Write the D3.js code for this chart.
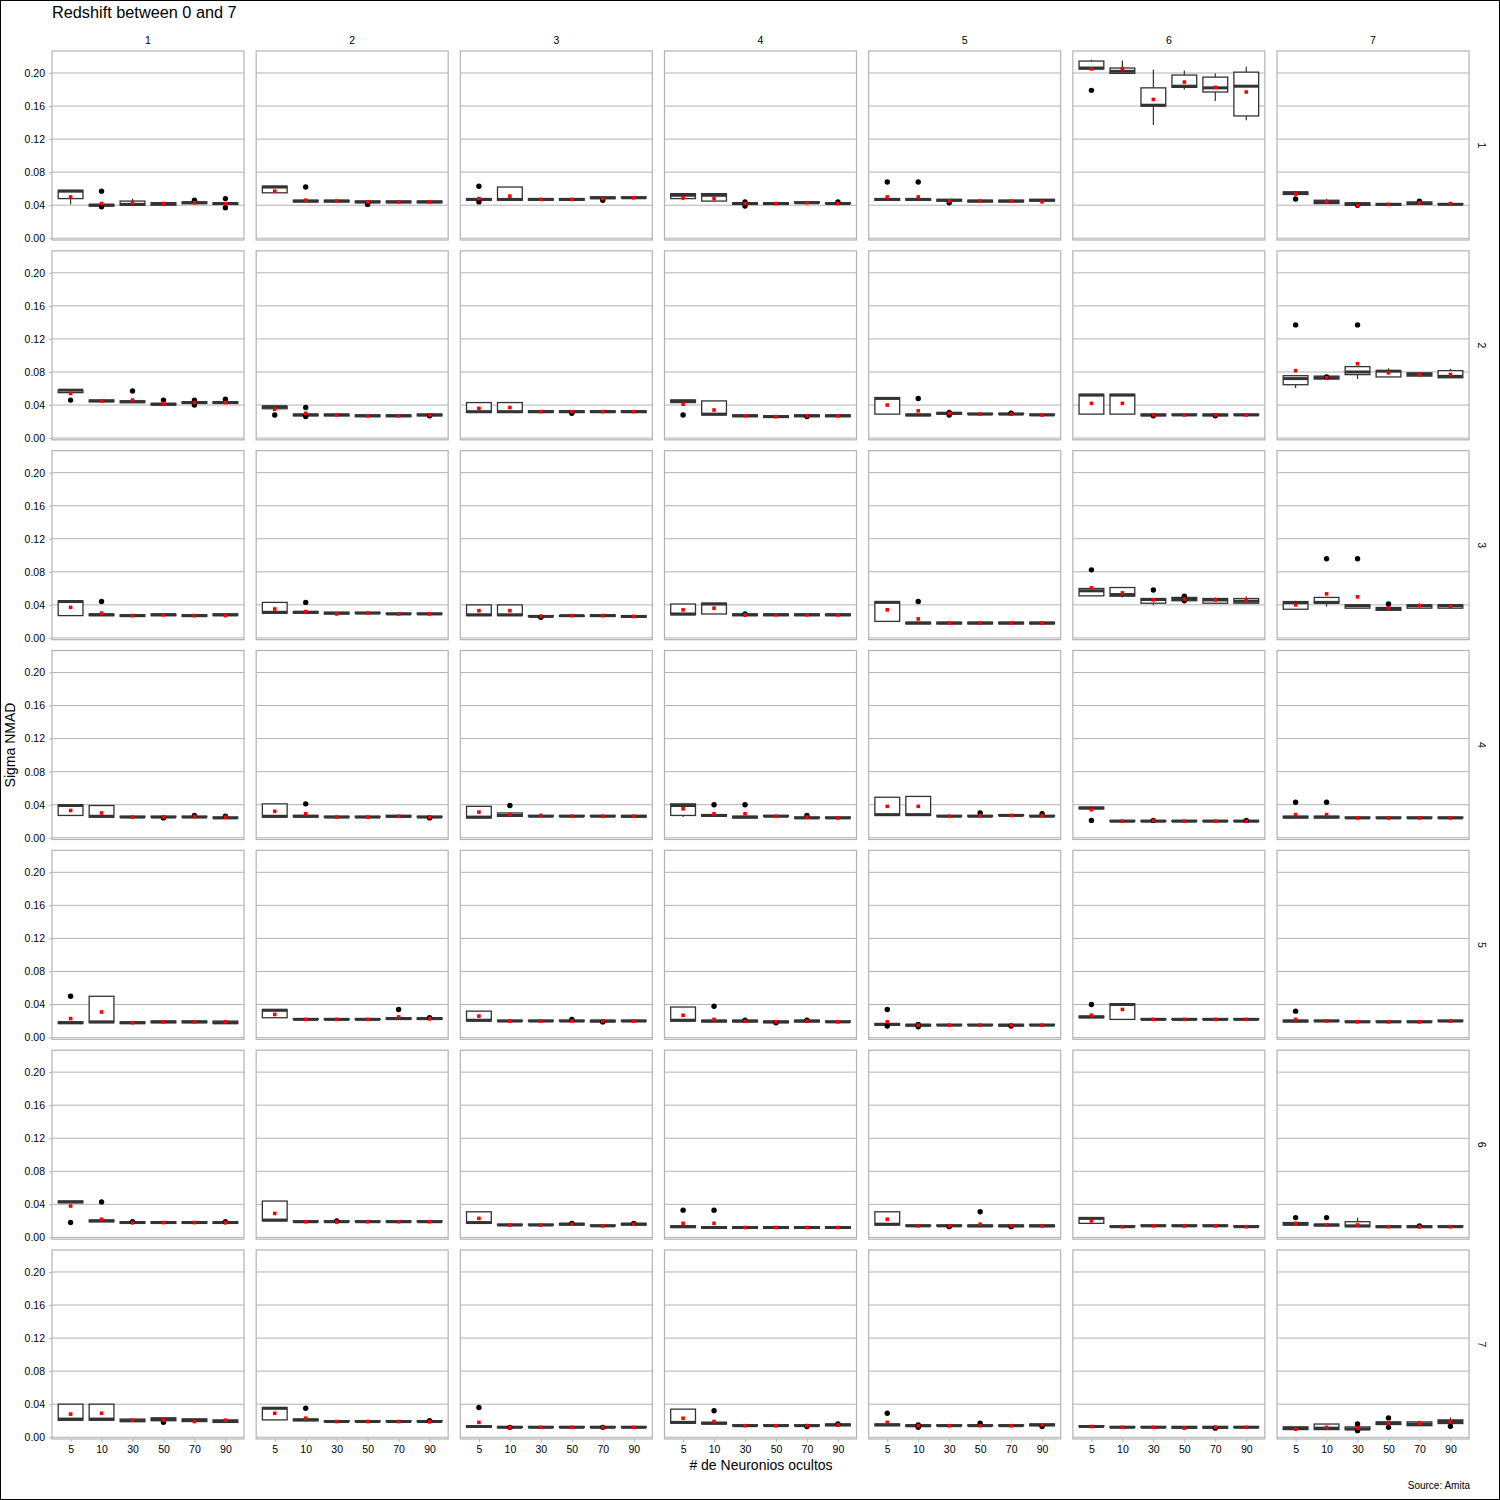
<!DOCTYPE html>
<html><head><meta charset="utf-8">
<script src="https://cdn.jsdelivr.net/npm/d3@7"></script>
<style>body{margin:0;background:#fff}svg{display:block}text{font-family:"Liberation Sans",Arial,sans-serif}</style>
</head><body>
<script>
const neurons = ["5","10","30","50","70","90"];
const colLabels = ["1","2","3","4","5","6","7"];
const rowLabels = ["1","2","3","4","5","6","7"];
const yTicks = [0.00,0.04,0.08,0.12,0.16,0.20];

const whiskerLow = [
 [[.041,.039,.040,.040,.042,.041],[.055,.044,.044,.043,.043,.043],[.046,.046,.046,.046,.048,.049],[.046,.045,.041,.041,.043,.042],[.046,.046,.045,.044,.044,.045],[.2048,.1995,.137,.180,.166,.1427],[.053,.042,.040,.040,.041,.041]],
 [[.055,.044,.043,.040,.042,.042],[.0355,.027,.027,.026,.026,.027],[.031,.031,.031,.031,.031,.031],[.043,.028,.026,.025,.026,.026],[.029,.027,.029,.029,.029,.028],[.029,.029,.027,.028,.027,.028],[.0606,.071,.0715,.074,.074,.073]],
 [[.027,.027,.026,.027,.026,.027],[.030,.030,.029,.030,.029,.029],[.027,.027,.026,.026,.026,.025],[.028,.029,.027,.027,.027,.027],[.020,.017,.017,.017,.017,.017],[.0509,.049,.0396,.045,.042,.042],[.0347,.038,.036,.0335,.036,.036]],
 [[.027,.025,.025,.025,.025,.024],[.025,.025,.025,.025,.025,.025],[.024,.026,.026,.026,.026,.025],[.025,.026,.024,.026,.024,.024],[.027,.027,.026,.026,.027,.026],[.035,.020,.020,.020,.020,.020],[.024,.024,.024,.024,.024,.024]],
 [[.017,.018,.017,.018,.018,.017],[.024,.022,.022,.022,.022,.022],[.020,.020,.020,.020,.019,.020],[.020,.019,.019,.018,.019,.019],[.015,.014,.015,.015,.014,.015],[.024,.022,.022,.022,.022,.022],[.019,.020,.019,.019,.019,.020]],
 [[.042,.019,.017,.017,.017,.017],[.020,.019,.019,.019,.019,.019],[.017,.015,.015,.015,.014,.015],[.012,.011,.011,.011,.011,.011],[.015,.014,.014,.013,.013,.013],[.017,.013,.014,.014,.014,.013],[.015,.014,.013,.012,.012,.013]],
 [[.0206,.0206,.019,.020,.019,.018],[.021,.020,.019,.019,.019,.019],[.012,.012,.012,.012,.012,.012],[.017,.016,.014,.014,.014,.014],[.014,.013,.014,.014,.014,.014],[.013,.012,.012,.011,.011,.012],[.0093,.0093,.0093,.0154,.014,.0166]]
];
const q1 = [
 [[.048,.039,.040,.040,.042,.041],[.055,.044,.044,.043,.043,.043],[.046,.046,.046,.046,.048,.049],[.048,.045,.041,.041,.043,.042],[.046,.046,.045,.044,.044,.045],[.2048,.1995,.160,.1826,.177,.148],[.053,.042,.040,.040,.041,.041]],
 [[.055,.044,.043,.040,.042,.042],[.0355,.027,.027,.026,.026,.027],[.031,.031,.031,.031,.031,.031],[.043,.028,.026,.025,.026,.026],[.029,.027,.029,.029,.029,.028],[.029,.029,.027,.028,.027,.028],[.0646,.0715,.0768,.074,.075,.073]],
 [[.027,.027,.026,.027,.026,.027],[.030,.030,.029,.030,.029,.029],[.027,.027,.026,.026,.026,.025],[.028,.029,.027,.027,.027,.027],[.020,.017,.017,.017,.017,.017],[.0509,.0505,.042,.045,.042,.042],[.0347,.042,.036,.0335,.036,.036]],
 [[.027,.025,.025,.025,.025,.024],[.025,.025,.025,.025,.025,.025],[.024,.026,.026,.026,.026,.025],[.027,.026,.024,.026,.024,.024],[.027,.027,.026,.026,.027,.026],[.035,.020,.020,.020,.020,.020],[.024,.024,.024,.024,.024,.024]],
 [[.017,.018,.017,.018,.018,.017],[.024,.022,.022,.022,.022,.022],[.020,.020,.020,.020,.019,.020],[.020,.019,.019,.018,.019,.019],[.015,.014,.015,.015,.014,.015],[.024,.022,.022,.022,.022,.022],[.019,.020,.019,.019,.019,.020]],
 [[.042,.019,.017,.017,.017,.017],[.020,.019,.019,.019,.019,.019],[.017,.015,.015,.015,.014,.015],[.012,.011,.011,.011,.011,.011],[.015,.014,.014,.013,.013,.013],[.017,.013,.014,.014,.014,.013],[.015,.014,.013,.012,.012,.013]],
 [[.0206,.0206,.019,.020,.019,.018],[.021,.020,.019,.019,.019,.019],[.012,.012,.012,.012,.012,.012],[.017,.016,.014,.014,.014,.014],[.014,.013,.014,.014,.014,.014],[.013,.012,.012,.011,.011,.012],[.0093,.0093,.0093,.0154,.014,.0166]]
];
const median = [
 [[.057,.040,.041,.042,.043,.042],[.062,.045,.045,.044,.044,.044],[.047,.047,.047,.047,.049,.049],[.052,.052,.042,.042,.043,.042],[.047,.047,.046,.045,.045,.046],[.206,.202,.161,.184,.182,.184],[.055,.044,.041,.041,.042,.041]],
 [[.058,.045,.044,.041,.043,.043],[.038,.028,.028,.027,.027,.028],[.032,.032,.032,.032,.032,.032],[.045,.029,.027,.026,.027,.027],[.048,.028,.030,.029,.029,.028],[.052,.052,.028,.028,.028,.028],[.072,.073,.080,.081,.077,.0747]],
 [[.044,.028,.027,.028,.027,.028],[.031,.031,.030,.030,.029,.029],[.028,.028,.026,.027,.027,.026],[.029,.041,.028,.028,.028,.028],[.043,.018,.018,.018,.018,.018],[.057,.0525,.0465,.047,.046,.0444],[.0424,.043,.039,.035,.039,.039]],
 [[.039,.026,.025,.025,.025,.024],[.026,.026,.025,.025,.026,.025],[.025,.027,.026,.026,.026,.026],[.039,.027,.025,.026,.024,.024],[.028,.028,.026,.026,.027,.026],[.036,.020,.020,.020,.020,.020],[.025,.025,.024,.024,.024,.024]],
 [[.018,.019,.018,.019,.019,.018],[.033,.022,.022,.022,.023,.023],[.021,.020,.020,.020,.020,.020],[.021,.020,.020,.019,.020,.019],[.016,.015,.015,.015,.015,.015],[.025,.040,.022,.022,.022,.022],[.020,.020,.019,.019,.019,.020]],
 [[.043,.020,.018,.018,.018,.018],[.021,.019,.019,.019,.019,.019],[.018,.015,.015,.016,.014,.016],[.013,.012,.012,.012,.012,.012],[.016,.014,.014,.014,.014,.014],[.023,.013,.014,.014,.014,.013],[.016,.015,.014,.013,.013,.013]],
 [[.022,.022,.020,.022,.021,.019],[.035,.021,.019,.019,.019,.019],[.013,.012,.012,.012,.012,.012],[.018,.017,.014,.014,.014,.015],[.015,.014,.014,.014,.014,.015],[.013,.012,.012,.012,.012,.012],[.011,.011,.010,.017,.016,.019]]
];
const q3 = [
 [[.058,.041,.045,.043,.044,.043],[.063,.046,.046,.045,.045,.045],[.048,.062,.048,.048,.050,.050],[.054,.054,.043,.043,.044,.043],[.048,.048,.047,.046,.046,.047],[.2144,.206,.182,.1975,.195,.201],[.056,.046,.043,.042,.044,.042]],
 [[.058,.046,.045,.042,.044,.044],[.0385,.029,.029,.028,.028,.029],[.043,.043,.033,.033,.033,.033],[.046,.045,.028,.027,.028,.028],[.049,.029,.031,.030,.030,.029],[.053,.053,.029,.029,.029,.029],[.0755,.075,.0865,.0816,.079,.0816]],
 [[.045,.029,.028,.029,.028,.029],[.043,.032,.031,.031,.030,.030],[.040,.040,.027,.027,.028,.027],[.041,.042,.029,.029,.029,.029],[.044,.019,.019,.019,.019,.019],[.0598,.061,.0477,.049,.0477,.0477],[.044,.049,.040,.0368,.040,.040]],
 [[.040,.039,.026,.026,.026,.025],[.041,.027,.026,.026,.027,.026],[.038,.030,.027,.027,.027,.027],[.041,.028,.026,.027,.025,.025],[.049,.050,.027,.027,.028,.027],[.037,.021,.021,.021,.021,.021],[.026,.026,.025,.025,.025,.025]],
 [[.019,.050,.019,.020,.020,.020],[.034,.023,.023,.023,.024,.024],[.032,.021,.021,.021,.021,.021],[.037,.021,.021,.020,.021,.020],[.017,.016,.016,.016,.016,.016],[.026,.041,.023,.023,.023,.023],[.021,.021,.020,.020,.020,.021]],
 [[.044,.021,.019,.019,.019,.019],[.044,.020,.020,.020,.020,.020],[.031,.016,.016,.017,.015,.017],[.014,.013,.013,.013,.013,.013],[.031,.015,.015,.015,.015,.015],[.024,.014,.015,.015,.015,.014],[.018,.016,.019,.014,.014,.014]],
 [[.040,.040,.022,.0234,.022,.021],[.036,.022,.020,.020,.020,.020],[.014,.013,.013,.013,.013,.013],[.034,.018,.015,.015,.015,.016],[.016,.015,.015,.015,.015,.016],[.014,.013,.013,.013,.013,.013],[.0125,.016,.0125,.0186,.0186,.021]]
];
const whiskerHigh = [
 [[.058,.041,.048,.044,.044,.044],[.063,.046,.046,.045,.045,.045],[.048,.062,.048,.048,.050,.050],[.054,.054,.043,.043,.044,.043],[.048,.048,.047,.046,.046,.047],[.216,.215,.204,.203,.1995,.2076],[.057,.0476,.043,.042,.044,.042]],
 [[.058,.046,.045,.042,.044,.044],[.0385,.029,.029,.028,.028,.029],[.043,.043,.033,.033,.033,.033],[.046,.045,.028,.027,.028,.028],[.049,.029,.031,.030,.030,.029],[.053,.053,.029,.029,.029,.029],[.0755,.076,.0865,.0845,.080,.0836]],
 [[.045,.029,.028,.029,.028,.029],[.043,.032,.031,.031,.030,.030],[.040,.040,.027,.027,.028,.027],[.041,.042,.029,.029,.029,.029],[.044,.019,.019,.019,.019,.019],[.0598,.061,.0477,.049,.049,.0505],[.045,.049,.040,.0368,.042,.041]],
 [[.040,.039,.026,.026,.026,.025],[.041,.027,.026,.026,.027,.026],[.038,.030,.027,.027,.027,.027],[.041,.028,.026,.027,.025,.025],[.049,.050,.027,.027,.028,.027],[.038,.021,.021,.021,.021,.021],[.026,.026,.025,.025,.025,.025]],
 [[.019,.050,.019,.020,.020,.020],[.034,.023,.023,.023,.024,.024],[.032,.021,.021,.021,.021,.021],[.037,.021,.021,.020,.021,.020],[.017,.016,.016,.016,.016,.016],[.026,.041,.023,.023,.023,.023],[.021,.021,.020,.020,.020,.021]],
 [[.044,.021,.019,.019,.019,.019],[.044,.020,.020,.020,.020,.020],[.031,.016,.016,.017,.015,.017],[.014,.013,.013,.013,.013,.013],[.031,.015,.015,.015,.015,.015],[.024,.014,.015,.015,.015,.014],[.018,.016,.024,.014,.014,.014]],
 [[.040,.040,.022,.0234,.022,.021],[.036,.022,.020,.020,.020,.020],[.014,.013,.013,.013,.013,.013],[.034,.018,.015,.015,.015,.016],[.016,.015,.015,.015,.015,.016],[.014,.013,.013,.013,.013,.013],[.0125,.016,.0125,.0186,.020,.024]]
];
const means = [
 [[.050,.042,.043,.042,.043,.042],[.057,.046,.045,.044,.044,.044],[.048,.051,.047,.047,.048,.049],[.049,.048,.042,.042,.043,.042],[.050,.050,.045,.045,.045,.044],[.205,.205,.168,.189,.1826,.177],[.0536,.044,.040,.041,.043,.042]],
 [[.054,.045,.046,.042,.043,.043],[.035,.030,.028,.027,.027,.028],[.036,.037,.032,.032,.032,.032],[.041,.034,.027,.026,.027,.027],[.040,.033,.030,.029,.029,.028],[.042,.042,.028,.028,.028,.028],[.0816,.073,.090,.079,.077,.077]],
 [[.037,.030,.027,.028,.027,.027],[.035,.032,.029,.030,.029,.029],[.033,.033,.026,.027,.027,.026],[.034,.036,.028,.028,.028,.028],[.034,.023,.018,.018,.018,.018],[.0606,.0545,.046,.047,.046,.046],[.040,.0533,.0497,.0364,.039,.038]],
 [[.033,.030,.025,.025,.026,.025],[.032,.029,.025,.025,.026,.025],[.031,.028,.027,.026,.026,.026],[.035,.029,.029,.026,.025,.024],[.038,.038,.026,.027,.027,.027],[.034,.020,.021,.020,.020,.020],[.028,.028,.024,.024,.024,.024]],
 [[.023,.031,.018,.019,.019,.019],[.028,.022,.022,.022,.025,.023],[.026,.020,.020,.020,.020,.020],[.027,.022,.020,.019,.020,.019],[.019,.015,.015,.015,.015,.015],[.027,.034,.022,.022,.022,.022],[.022,.020,.019,.019,.019,.020]],
 [[.038,.022,.018,.018,.018,.018],[.029,.019,.019,.019,.019,.019],[.023,.015,.015,.016,.014,.016],[.017,.017,.012,.012,.012,.012],[.022,.014,.014,.016,.014,.014],[.020,.013,.014,.014,.014,.013],[.017,.015,.015,.013,.013,.013]],
 [[.028,.029,.0206,.0206,.019,.0206],[.029,.023,.019,.019,.019,.019],[.018,.012,.012,.012,.012,.012],[.023,.019,.014,.014,.014,.015],[.018,.014,.014,.014,.014,.015],[.013,.012,.012,.011,.012,.012],[.0097,.012,.011,.017,.017,.0186]]
];
const outliers = [
 [[[],[.057,.038],[],[],[.046],[.048,.037]],[[],[.062],[],[.041],[],[]],[[.063,.044],[],[],[],[.046],[]],[[],[],[.039,.044],[],[],[.044]],[[.068],[.068],[.043],[],[],[]],[[.179],[],[],[],[],[]],[[.0476],[],[.040],[],[.045],[]]],
 [[[.046],[],[.057],[.046],[.046,.040],[.047]],[[.028],[.037,.026],[],[],[],[.027]],[[],[],[],[.030],[],[]],[[.028],[],[],[],[.026],[]],[[],[.048],[.028,.031],[],[.030],[]],[[],[],[.027],[],[.027],[]],[[.137],[.074],[.137],[],[],[]]],
 [[[],[.044],[],[],[],[]],[[],[.043],[],[],[],[]],[[],[],[.025],[],[],[]],[[],[],[.029],[],[],[]],[[],[.044],[],[],[],[]],[[.0824],[],[.058],[.0505,.045],[],[]],[[],[.0958],[.0958],[.041],[],[]]],
 [[[],[],[],[.024],[.027],[.026]],[[],[.041],[],[],[],[.024]],[[],[.039],[],[],[],[]],[[],[.040],[.040],[],[.027],[]],[[],[],[],[.030],[],[.029]],[[.021],[],[.021],[],[],[.021]],[[.043],[.043],[],[],[],[]]],
 [[[.050],[],[],[],[],[]],[[],[],[],[],[.034],[.024]],[[],[],[],[.022],[.019],[]],[[],[.038],[.021],[.018],[.021],[]],[[.034,.014],[.013,.016],[],[],[.014],[]],[[.040],[],[],[],[],[]],[[.032],[],[],[],[],[]]],
 [[[.018],[.043],[.019],[],[],[.019]],[[],[],[.020],[],[],[]],[[],[],[],[.017],[],[.017]],[[.033],[.033],[],[],[],[]],[[],[],[.013],[.031],[.013],[]],[[],[],[],[],[],[]],[[.024],[.024],[],[],[.014],[]]],
 [[[],[],[],[.018],[],[]],[[],[.035],[],[],[],[.020]],[[.036],[.012],[],[],[.012],[]],[[],[.032],[],[],[.013],[.016]],[[.029],[.012,.015],[],[.017],[],[.013]],[[],[],[],[],[.011],[]],[[],[],[.016,.008],[.0234,.012],[],[.0133]]]
];

const W = 1500, H = 1500;
const panelW = 192, panelH = 189, colStep = 204.17, rowStep = 199.83, left0 = 52, top0 = 51;
const gridCol = "#b3b3b3", boxCol = "#333333";
const svg = d3.select("body").append("svg").attr("width", W).attr("height", H);
svg.append("rect").attr("x",0.5).attr("y",0.5).attr("width",W-1).attr("height",H-1).attr("fill","#fff").attr("stroke","#000");

const x = d3.scalePoint().domain(neurons).range([0, panelW]).padding(0.6);
const bw = x.step() * 0.8;
const y = d3.scaleLinear().domain([-0.0021, 0.2266]).range([panelH, 0]);

svg.append("text").attr("x",52).attr("y",18).attr("font-size",16.3).text("Redshift between 0 and 7");

for (let r = 0; r < 7; r++) {
  for (let c = 0; c < 7; c++) {
    const g = svg.append("g").attr("transform", `translate(${left0 + c*colStep},${top0 + r*rowStep})`);
    g.append("rect").attr("width", panelW).attr("height", panelH).attr("fill","#fff");
    g.selectAll("line.grid").data(yTicks).join("line").attr("class","grid")
      .attr("x1",0).attr("x2",panelW).attr("y1",d=>y(d)).attr("y2",d=>y(d))
      .attr("stroke",gridCol).attr("stroke-width",1);
    g.append("rect").attr("width", panelW).attr("height", panelH).attr("fill","none").attr("stroke",gridCol).attr("stroke-width",1.2);
    if (c === 0) {
      const ax = g.append("g").call(d3.axisLeft(y).tickValues(yTicks).tickFormat(d3.format(".2f")).tickSize(3).tickPadding(4));
      ax.select(".domain").remove();
      ax.selectAll("line").attr("stroke", gridCol);
      ax.selectAll("text").attr("font-size",10.5).attr("fill","#000").attr("font-family","Liberation Sans, Arial, sans-serif");
    }
    if (r === 6) {
      const ax = g.append("g").attr("transform",`translate(0,${panelH})`).call(d3.axisBottom(x).tickSize(3).tickPadding(4));
      ax.select(".domain").remove();
      ax.selectAll("line").attr("stroke", gridCol);
      ax.selectAll("text").attr("font-size",10.5).attr("fill","#000").attr("font-family","Liberation Sans, Arial, sans-serif");
    }
    if (r === 0) {
      svg.append("text").attr("x", left0 + c*colStep + panelW/2).attr("y", 44).attr("text-anchor","middle").attr("font-size",10.5).text(colLabels[c]);
    }
    if (c === 6) {
      const cy = top0 + r*rowStep + panelH/2;
      svg.append("text").attr("transform",`translate(1478,${cy}) rotate(90)`).attr("text-anchor","middle").attr("font-size",10.5).text(rowLabels[r]);
    }
    const boxes = neurons.map((n,k) => ({
      n, lo: whiskerLow[r][c][k], q1: q1[r][c][k], med: median[r][c][k], q3: q3[r][c][k],
      hi: whiskerHigh[r][c][k], mean: means[r][c][k], out: outliers[r][c][k]
    }));
    const b = g.selectAll("g.box").data(boxes).join("g").attr("class","box");
    b.append("line").attr("x1",d=>x(d.n)).attr("x2",d=>x(d.n)).attr("y1",d=>y(d.q3)).attr("y2",d=>y(d.hi)).attr("stroke",boxCol).attr("stroke-width",1.2);
    b.append("line").attr("x1",d=>x(d.n)).attr("x2",d=>x(d.n)).attr("y1",d=>y(d.q1)).attr("y2",d=>y(d.lo)).attr("stroke",boxCol).attr("stroke-width",1.2);
    b.append("rect").attr("x",d=>x(d.n)-bw/2).attr("width",bw).attr("y",d=>y(d.q3)).attr("height",d=>Math.max(0.5,y(d.q1)-y(d.q3)))
      .attr("fill","#fff").attr("stroke",boxCol).attr("stroke-width",1.3);
    b.append("line").attr("x1",d=>x(d.n)-bw/2).attr("x2",d=>x(d.n)+bw/2).attr("y1",d=>y(d.med)).attr("y2",d=>y(d.med)).attr("stroke",boxCol).attr("stroke-width",3);
    b.selectAll("circle").data(d=>d.out.map(v=>({n:d.n,v}))).join("circle")
      .attr("cx",d=>x(d.n)).attr("cy",d=>y(d.v)).attr("r",2.7).attr("fill","#000");
    b.append("rect").attr("x",d=>x(d.n)-1.8).attr("y",d=>y(d.mean)-1.8).attr("width",3.6).attr("height",3.6).attr("fill","#ff0000");
  }
}

svg.append("text").attr("transform","translate(15,745) rotate(-90)").attr("text-anchor","middle").attr("font-size",14).text("Sigma NMAD");
svg.append("text").attr("x",761).attr("y",1470).attr("text-anchor","middle").attr("font-size",14).text("# de Neuronios ocultos");
svg.append("text").attr("x",1470).attr("y",1489).attr("text-anchor","end").attr("font-size",10).text("Source: Amita");
</script>
</body></html>
